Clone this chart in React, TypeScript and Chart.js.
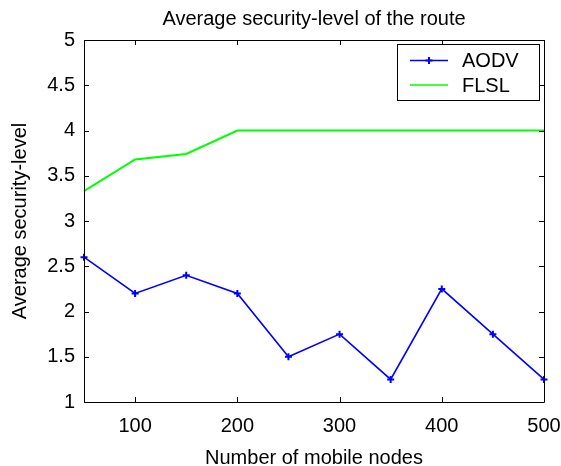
import { useEffect, useRef } from "react";
import { Chart, registerables } from "chart.js";

Chart.register(...registerables);

const nodes = [50, 100, 150, 200, 250, 300, 350, 400, 450, 500];
const aodv = [2.6, 2.2, 2.4, 2.2, 1.5, 1.75, 1.25, 2.25, 1.75, 1.25];
const flsl = [3.33, 3.68, 3.74, 4, 4, 4, 4, 4, 4, 4];
const xTicks = [100, 200, 300, 400, 500];
const yTicks = [1, 1.5, 2, 2.5, 3, 3.5, 4, 4.5, 5];
const seriesNames = ["AODV", "FLSL"];
const titleText = "Average security-level of the route";
const xTitleText = "Number of mobile nodes";
const yTitleText = "Average security-level";

const FONT = "'Liberation Sans', Arial, Helvetica, sans-serif";

const framePlugin = {
  id: "matlabFrame",
  afterDatasetsDraw(chart: any) {
    const { ctx, chartArea } = chart;
    const { left, right, top, bottom } = chartArea;
    const xs = chart.scales.x;
    const ys = chart.scales.y;
    const tl = 5;
    ctx.save();
    ctx.strokeStyle = "#000";
    ctx.lineWidth = 1;
    ctx.beginPath();
    ctx.rect(Math.round(left) + 0.5, Math.round(top) + 0.5, Math.round(right - left), Math.round(bottom - top));
    ctx.stroke();
    ctx.beginPath();
    for (const v of xTicks) {
      const px = Math.round(xs.getPixelForValue(v)) + 0.5;
      ctx.moveTo(px, bottom);
      ctx.lineTo(px, bottom - tl);
      ctx.moveTo(px, top);
      ctx.lineTo(px, top + tl);
    }
    for (const v of yTicks) {
      const py = Math.round(ys.getPixelForValue(v)) + 0.5;
      ctx.moveTo(left, py);
      ctx.lineTo(left + tl, py);
      ctx.moveTo(right, py);
      ctx.lineTo(right - tl, py);
    }
    ctx.stroke();
    ctx.restore();
  },
  afterDraw(chart: any) {
    const { ctx, chartArea } = chart;
    ctx.save();
    // title, centred over the plot area
    ctx.fillStyle = "#000";
    ctx.font = `20px ${FONT}`;
    ctx.textAlign = "center";
    ctx.textBaseline = "middle";
    ctx.fillText(titleText, (chartArea.left + chartArea.right) / 2, 19);

    // legend
    const bx = 397.5, by = 44.5, bw = 142, bh = 56;
    ctx.fillStyle = "#fff";
    ctx.fillRect(bx, by, bw, bh);
    ctx.strokeStyle = "#000";
    ctx.lineWidth = 1;
    ctx.strokeRect(bx, by, bw, bh);
    chart.data.datasets.forEach((ds: any, i: number) => {
      const y = 60.5 + i * 24.5;
      ctx.strokeStyle = ds.borderColor;
      ctx.lineWidth = 1.5;
      ctx.beginPath();
      ctx.moveTo(410, y);
      ctx.lineTo(448, y);
      ctx.stroke();
      if (ds.pointRadius > 0) {
        const cx = 429;
        ctx.lineWidth = 2;
        ctx.beginPath();
        ctx.moveTo(cx - 3.5, y);
        ctx.lineTo(cx + 3.5, y);
        ctx.moveTo(cx, y - 3.5);
        ctx.lineTo(cx, y + 3.5);
        ctx.stroke();
      }
      ctx.fillStyle = "#000";
      ctx.font = `20px ${FONT}`;
      ctx.textBaseline = "middle";
      ctx.textAlign = "left";
      ctx.fillText(ds.label, 462, y + 1);
    });
    ctx.restore();
  },
};

export default function App() {
  const ref = useRef<HTMLCanvasElement | null>(null);

  useEffect(() => {
    document.body.style.margin = "0";
    const canvas = ref.current;
    if (!canvas) return;
    Chart.defaults.font.family = FONT;
    Chart.defaults.color = "#000";
    const chart = new Chart(canvas, {
      type: "line",
      data: {
        datasets: [
          {
            label: seriesNames[0],
            data: nodes.map((x, i) => ({ x, y: aodv[i] })),
            borderColor: "#0000ff",
            backgroundColor: "#0000ff",
            borderWidth: 1.6,
            pointStyle: "cross",
            pointRadius: 3.5,
            pointBorderWidth: 2,
            pointHoverRadius: 3.5,
            tension: 0,
            fill: false,
            clip: false,
          },
          {
            label: seriesNames[1],
            data: nodes.map((x, i) => ({ x, y: flsl[i] })),
            borderColor: "#00ff00",
            backgroundColor: "#00ff00",
            borderWidth: 2,
            pointRadius: 0,
            pointHoverRadius: 0,
            tension: 0,
            fill: false,
            clip: false,
          },
        ],
      },
      options: {
        responsive: false,
        animation: false,
        events: [],
        layout: { padding: { left: 0, right: 17, top: 40, bottom: 0 } },
        plugins: {
          legend: { display: false },
          tooltip: { enabled: false },
          title: { display: false },
        },
        scales: {
          x: {
            type: "linear",
            min: 50,
            max: 500,
            afterBuildTicks: (scale: any) => {
              scale.ticks = xTicks.map((v) => ({ value: v }));
            },
            afterFit: (scale: any) => {
              scale.height = 64;
              scale.paddingLeft = 0;
              scale.paddingRight = 0;
            },
            grid: { display: false, drawTicks: false },
            border: { display: false },
            ticks: {
              autoSkip: false,
              maxRotation: 0,
              padding: 12,
              color: "#000",
              font: { size: 20, family: FONT },
            },
            title: {
              display: true,
              text: xTitleText,
              color: "#000",
              font: { size: 20, family: FONT },
              padding: { top: 0, bottom: -4 },
            },
          },
          y: {
            type: "linear",
            min: 1,
            max: 5,
            afterBuildTicks: (scale: any) => {
              scale.ticks = yTicks.map((v) => ({ value: v }));
            },
            afterFit: (scale: any) => {
              scale.width = 84;
              scale.paddingTop = 0;
              scale.paddingBottom = 0;
            },
            grid: { display: false, drawTicks: false },
            border: { display: false },
            ticks: {
              autoSkip: false,
              padding: 9,
              color: "#000",
              font: { size: 20, family: FONT },
              callback: (v: any) => String(v),
            },
            title: {
              display: true,
              text: yTitleText,
              color: "#000",
              font: { size: 20, family: FONT },
              padding: { top: 8, bottom: 0 },
            },
          },
        },
      },
      plugins: [framePlugin],
    } as any);
    return () => chart.destroy();
  }, []);

  return <canvas ref={ref} width={561} height={466} style={{ display: "block" }} />;
}
